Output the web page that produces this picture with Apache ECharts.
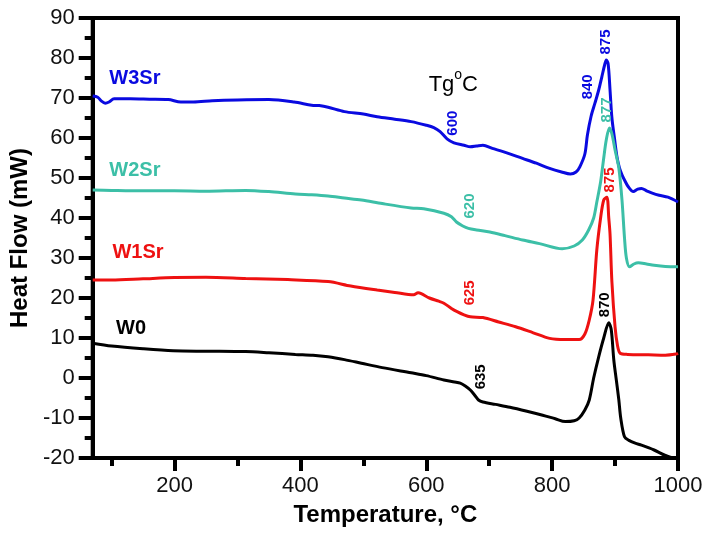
<!DOCTYPE html>
<html>
<head>
<meta charset="utf-8"/>
<title>DSC</title>
<script src="https://cdn.jsdelivr.net/npm/echarts@6/dist/echarts.min.js"></script>
<style>
  body { margin: 0; background: #fff; }
  #main { width: 714px; height: 538px; }
</style>
</head>
<body>
<div id="main"></div>
<script type="text/javascript">
// temperatures (°C) and heat flow (mW)
var w3Temp = [70, 78, 84, 90, 96, 104, 130, 160, 190, 210, 230, 260, 300, 350, 390, 418, 430, 444, 470, 500, 522, 550, 576, 600, 612, 622, 633, 644, 660, 670, 680, 690, 705, 722, 753, 775, 796, 815, 829, 838, 844, 852, 856, 862, 868, 874, 879, 883, 886, 889, 892, 895, 899, 903, 907, 911, 916, 921, 929, 936, 942, 950, 958, 970, 984, 1000];
var w3Flow = [70.5, 70.2, 69.2, 68.7, 69.0, 69.8, 69.8, 69.7, 69.6, 69.0, 69.0, 69.3, 69.5, 69.6, 69.0, 68.2, 68.1, 67.7, 66.6, 66.0, 65.3, 64.7, 64.1, 63.2, 62.6, 61.6, 59.8, 58.8, 58.2, 57.8, 58.0, 58.2, 57.4, 56.6, 54.9, 53.7, 52.4, 51.5, 51.0, 51.5, 52.8, 56.0, 60.7, 65.5, 68.7, 72.0, 75.3, 78.0, 79.5, 78.5, 72.0, 65.0, 60.0, 55.3, 52.5, 50.8, 49.2, 47.8, 46.6, 47.2, 47.4, 46.8, 46.3, 45.7, 45.2, 44.0];

var w2Temp = [70, 100, 150, 200, 250, 313, 350, 392, 418, 444, 470, 497, 530, 576, 596, 628, 640, 648, 658, 667, 680, 701, 725, 753, 780, 816, 835, 848, 858, 866, 871, 877, 882, 886, 891, 895, 900, 906, 911, 915, 918, 923, 930, 937, 950, 962, 980, 1000];
var w2Flow = [47.0, 46.9, 46.8, 46.8, 46.7, 46.9, 46.6, 46.0, 45.8, 45.5, 45.0, 44.5, 43.6, 42.5, 42.3, 41.2, 40.3, 39.0, 38.0, 37.4, 37.0, 36.5, 35.6, 34.5, 33.6, 32.3, 33.0, 34.5, 37.0, 40.0, 44.0, 49.0, 55.0, 59.5, 62.5, 61.0, 57.0, 52.5, 44.5, 35.0, 30.0, 27.8, 28.5, 28.8, 28.5, 28.2, 27.9, 27.8];

var w1Temp = [70, 100, 150, 200, 250, 313, 380, 444, 480, 522, 550, 580, 587, 592, 605, 620, 628, 640, 649, 660, 670, 690, 715, 742, 770, 796, 820, 843, 852, 859, 865, 871, 877, 882, 887, 890, 892, 895, 900, 904, 908, 920, 953, 980, 997, 1000];
var w1Flow = [24.5, 24.5, 24.8, 25.1, 25.2, 24.9, 24.6, 24.1, 23.0, 22.0, 21.4, 20.8, 21.3, 21.1, 20.0, 19.2, 18.7, 17.4, 16.6, 15.8, 15.3, 15.1, 14.0, 12.8, 11.3, 9.9, 9.6, 9.6, 11.0, 14.5, 19.5, 32.0, 40.0, 44.5, 45.2, 40.0, 36.0, 24.0, 12.8, 8.0, 6.2, 5.9, 5.8, 5.7, 6.0, 6.2];

var w0Temp = [70, 100, 150, 198, 250, 313, 350, 392, 420, 444, 470, 497, 530, 576, 600, 628, 645, 654, 662, 670, 677, 683, 690, 710, 733, 760, 785, 805, 821, 835, 843, 852, 859, 866, 874, 882, 890, 894, 898, 902, 906, 909, 915, 922, 932, 942, 962, 979, 992];
var w0Flow = [8.7, 8.0, 7.3, 6.8, 6.7, 6.6, 6.3, 5.9, 5.7, 5.3, 4.6, 3.7, 2.6, 1.3, 0.6, -0.5, -1.0, -1.3, -2.0, -3.0, -4.3, -5.5, -6.0, -6.6, -7.3, -8.3, -9.3, -10.2, -10.9, -10.7, -10.0, -8.0, -5.5, 0.0, 5.3, 10.0, 13.8, 12.0, 4.5, -0.5, -5.5, -10.0, -14.7, -15.6, -16.3, -16.8, -18.0, -19.3, -20.0];

// Tg / peak annotations: [text, temperature, heat flow]
var w3Marks = [['600', 643, 63.7], ['840', 856, 72.8], ['875', 886, 84]];
var w2Marks = [['620', 670, 43], ['877', 887, 67]];
var w1Marks = [['625', 670, 21.3], ['875', 892, 49.5]];
var w0Marks = [['635', 687, 0.3], ['870', 884, 18.3]];

var seriesNames = ['W3Sr', 'W2Sr', 'W1Sr', 'W0'];
var namePosT = [137, 137, 142, 131];
var namePosF = [74.8, 52, 31.3, 12.5];

var xMajor = [200, 400, 600, 800, 1000];
var xMinor = [100, 300, 500, 700, 900];

var colors = ['#0a0ae0', '#3cbfa7', '#ee1111', '#000000'];
var font = '"Liberation Sans", Arial, sans-serif';

function pairs(t, f) {
    var out = [];
    for (var i = 0; i < t.length; i++) out.push([t[i], f[i]]);
    return out;
}

var temps = [w3Temp, w2Temp, w1Temp, w0Temp];
var flows = [w3Flow, w2Flow, w1Flow, w0Flow];
var marks = [w3Marks, w2Marks, w1Marks, w0Marks];

var series = [];
for (var s = 0; s < 4; s++) {
    series.push({
        name: seriesNames[s],
        type: 'line',
        data: pairs(temps[s], flows[s]),
        showSymbol: false,
        smooth: 0.3,
        lineStyle: { color: colors[s], width: 3 },
        z: 3
    });
    series.push({
        type: 'scatter',
        symbolSize: 0,
        silent: true,
        itemStyle: { opacity: 1 },
        data: marks[s].map(function (m) { return { value: [m[1], m[2]], name: m[0] }; }),
        label: {
            show: true, position: 'inside', rotate: 90, formatter: '{b}',
            color: colors[s], fontSize: 15, fontWeight: 'bold', fontFamily: font
        },
        z: 4
    });
    series.push({
        type: 'scatter',
        symbolSize: 0,
        silent: true,
        itemStyle: { opacity: 1 },
        data: [{ value: [namePosT[s], namePosF[s]], name: seriesNames[s] }],
        label: {
            show: true, position: 'inside', formatter: '{b}',
            color: colors[s], fontSize: 20, fontWeight: 'bold', fontFamily: font
        },
        z: 4
    });
}
// "Tg°C" heading
series.push({
    type: 'scatter',
    symbolSize: 0,
    silent: true,
    itemStyle: { opacity: 1 },
    data: [{ value: [643, 74], name: 'Tg' }],
    label: {
        show: true, position: 'inside',
        formatter: '{n|Tg}{s|o}{n|C}',
        rich: {
            n: { fontSize: 22, lineHeight: 28, color: '#000', fontFamily: font, verticalAlign: 'bottom' },
            s: { fontSize: 14, lineHeight: 14, color: '#000', fontFamily: font, verticalAlign: 'top' }
        }
    },
    z: 4
});

var myChart = echarts.init(document.getElementById('main'));
var option = {
    backgroundColor: '#fff',
    animation: false,
    grid: { left: 86, right: 36, top: 18, bottom: 80, show: true, borderColor: '#000', borderWidth: 4 },
    xAxis: [{
        type: 'value', min: 70, max: 1000,
        name: 'Temperature, \u00B0C', nameLocation: 'middle', nameGap: 45,
        nameTextStyle: { fontSize: 24, fontWeight: 'bold', color: '#000', fontFamily: font },
        axisLine: { onZero: false, lineStyle: { color: '#000', width: 4 } },
        axisTick: { customValues: xMajor, length: 13, lineStyle: { width: 4, color: '#000' } },
        axisLabel: {
            customValues: xMajor, fontSize: 22, color: '#111', margin: 17, fontFamily: font,
            formatter: function (v) { return String(v); }
        },
        splitLine: { show: false }
    }, {
        type: 'value', min: 70, max: 1000, position: 'bottom',
        axisLine: { show: false, onZero: false },
        axisTick: { customValues: xMinor, length: 8, lineStyle: { width: 4, color: '#000' } },
        axisLabel: { show: false },
        splitLine: { show: false }
    }],
    yAxis: {
        type: 'value', min: -20, max: 90, interval: 10,
        name: 'Heat Flow (mW)', nameLocation: 'middle', nameGap: 54,
        nameTextStyle: { fontSize: 24, fontWeight: 'bold', color: '#000', fontFamily: font },
        axisLine: { onZero: false, lineStyle: { color: '#000', width: 4 } },
        axisTick: { length: 14, lineStyle: { width: 4, color: '#000' } },
        minorTick: { show: true, splitNumber: 2, length: 8, lineStyle: { width: 4, color: '#000' } },
        axisLabel: { fontSize: 22, color: '#111', margin: 18, fontFamily: font },
        splitLine: { show: false }
    },
    series: series
};
myChart.setOption(option);
</script>
</body>
</html>
